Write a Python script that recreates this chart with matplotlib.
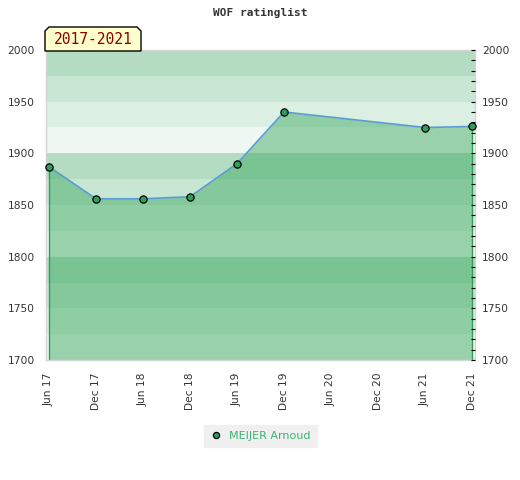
import matplotlib
matplotlib.use("Agg")
import matplotlib.pyplot as plt
from matplotlib.patches import Polygon
from matplotlib.ticker import MultipleLocator
import numpy as np

# ---- data ----
tick_labels = ["Jun 17", "Dec 17", "Jun 18", "Dec 18", "Jun 19",
               "Dec 19", "Jun 20", "Dec 20", "Jun 21", "Dec 21"]
point_dates = ["Jun 17", "Dec 17", "Jun 18", "Dec 18", "Jun 19",
               "Dec 19", "Jun 21", "Dec 21"]
ratings = [1887, 1856, 1856, 1858, 1890, 1940, 1925, 1926]
player = "MEIJER Arnoud"
period = "2017-2021"
title = "WOF ratinglist"

y_min, y_max = 1700, 2000

W, H = 520, 480
fig = plt.figure(figsize=(W / 100, H / 100), dpi=100)
fig.patch.set_facecolor("white")

def fx(px):
    return px / W

def fy(py):
    return 1 - py / H

L, R, T, B = 46, 475, 50, 360
ax = fig.add_axes([fx(L), fy(B), fx(R) - fx(L), fy(T) - fy(B)])

xpos = [tick_labels.index(d) for d in point_dates]

# background bands
band_colors = ["#eff7f2", "#dcefe3", "#c8e6d4", "#b3dcc2"]
for i, y0 in enumerate(np.arange(y_min, y_max, 25)):
    ax.axhspan(y0, y0 + 25, color=band_colors[i % 4], lw=0, zorder=0)

# area fill
ax.fill_between(xpos, ratings, y_min, color="#3aa85e", alpha=0.47, lw=0, zorder=1)
ax.vlines([xpos[0], xpos[-1]], y_min, [ratings[0], ratings[-1]],
          color="#2e9e55", lw=1, zorder=2)
ax.plot(xpos, ratings, color="#5b9bd5", lw=1.2, zorder=3)
ax.plot(xpos, ratings, ls="none", marker="o", ms=5.2, mfc="#2e9e5a",
        mec="black", mew=0.9, zorder=4, clip_on=False, label=player)

span = len(tick_labels) - 1
pad = 3 / ((R - L - 6) / span)
ax.set_xlim(-pad, span + pad)
ax.set_ylim(y_min, y_max)

ax.set_xticks(range(len(tick_labels)))
ax.set_xticklabels(tick_labels, rotation=90, fontsize=7.7, color="#333333")
ax.tick_params(axis="x", length=0, pad=9)

ax.set_yticks(np.arange(y_min, y_max + 1, 50))
ax.tick_params(axis="y", length=0, pad=8, labelsize=7.7, labelcolor="#333333")

for s in ax.spines.values():
    s.set_color("#d4d4d4")
    s.set_linewidth(1)

ax2 = ax.twinx()
ax2.set_ylim(y_min, y_max)
ax2.set_yticks(np.arange(y_min, y_max + 1, 50))
ax2.yaxis.set_minor_locator(MultipleLocator(10))
ax2.tick_params(axis="y", which="both", direction="in", length=3, width=0.8,
                color="black", pad=5, labelsize=7.7, labelcolor="#333333")
for s in ax2.spines.values():
    s.set_visible(False)

# title
fig.text(fx(260), fy(13), title, ha="center", va="center",
         family="DejaVu Sans Mono", fontweight="bold", fontsize=8, color="#333333")

# period label box
bx0, bx1, by0, by1, c = 45, 141, 27, 51, 4
poly = Polygon([(fx(bx0), fy(by1)), (fx(bx0), fy(by0 + c)), (fx(bx0 + c), fy(by0)),
                (fx(bx1 - c), fy(by0)), (fx(bx1), fy(by0 + c)), (fx(bx1), fy(by1))],
               closed=True, transform=fig.transFigure, facecolor="#ffffcc",
               edgecolor="black", lw=1, zorder=10)
fig.add_artist(poly)
fig.text(fx(93), fy(40), period, ha="center", va="center", color="#8b0000",
         family="DejaVu Sans Mono", fontsize=10.5, zorder=11)

# legend
leg = ax.legend(loc="center", bbox_to_anchor=(fx(260.5), fy(436)),
                bbox_transform=fig.transFigure, frameon=True, fancybox=False,
                facecolor="#f0f0f0", edgecolor="#f0f0f0", framealpha=1,
                fontsize=8, markerscale=0.85, handlelength=1.0, handletextpad=0.7,
                borderpad=0.55, labelcolor="#3cb371")

fig.savefig("out.png", dpi=100)
